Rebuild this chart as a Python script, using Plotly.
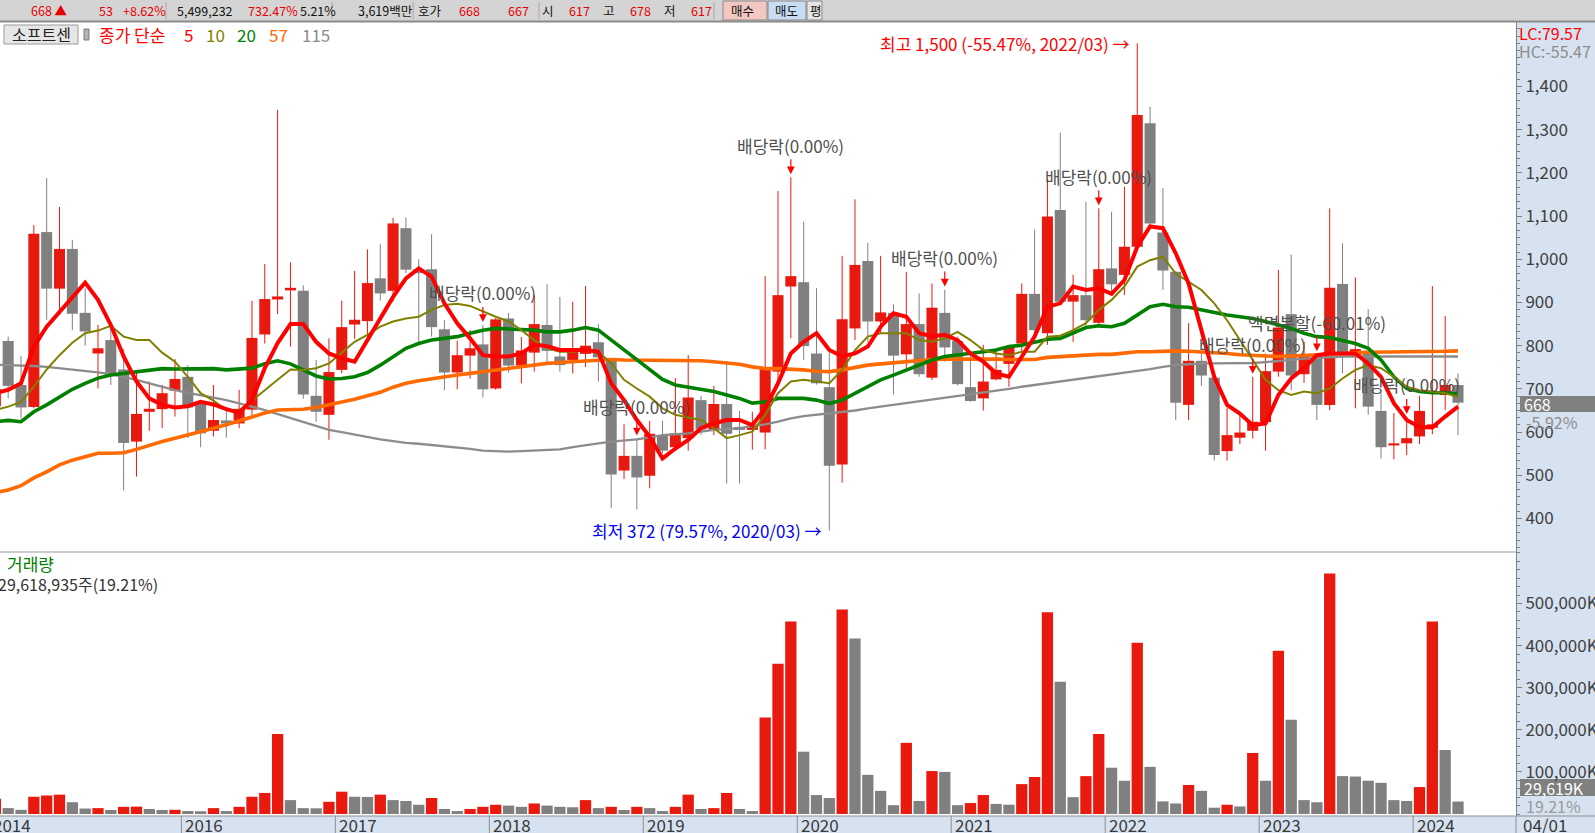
import plotly.graph_objects as go

# ---------------- data (monthly candles, index 0 = first partly visible month) ----------------
bar_index = list(range(115))

opens = [660, 811, 709, 658, 1063, 932, 1024, 876, 782, 813,
         745, 578, 647, 653, 696, 728, 666, 603, 627, 620,
         652, 826, 907, 928, 927, 684, 640, 744, 849, 857,
         956, 927, 1072, 977, 977, 838, 738, 777, 803, 701,
         863, 754, 784, 848, 775, 767, 781, 808, 765, 511,
         545, 499, 591, 565, 586, 674, 606, 665, 612, 605,
         599, 740, 937, 947, 782, 704, 525, 840, 996, 856,
         876, 780, 850, 726, 876, 811, 704, 678, 722, 758,
         805, 920, 829, 1114, 902, 917, 853, 979, 964, 1029,
         1315, 1062, 971, 663, 765, 726, 556, 587, 603, 623,
         740, 873, 734, 777, 663, 943, 777, 788, 649, 569,
         574, 590, 610, 686, 709]
highs = [840, 821, 776, 1079, 1188, 1121, 1045, 933, 848, 847,
         792, 738, 717, 709, 769, 755, 668, 709, 657, 698,
         904, 989, 1346, 993, 940, 767, 817, 904, 973, 1023,
         1035, 1096, 1097, 1000, 1058, 859, 812, 836, 848, 864,
         876, 820, 917, 942, 913, 902, 938, 850, 769, 618,
         585, 626, 626, 725, 778, 684, 707, 765, 649, 647,
         961, 1158, 1190, 1087, 933, 790, 1008, 1139, 1038, 1008,
         896, 971, 921, 944, 930, 821, 786, 802, 794, 800,
         944, 1069, 1185, 1293, 964, 1133, 1118, 1110, 1168, 1500,
         1353, 1165, 972, 852, 782, 728, 657, 645, 728, 782,
         975, 1011, 809, 780, 1118, 1037, 958, 885, 690, 644,
         635, 684, 938, 869, 736]
lows = [650, 678, 632, 655, 860, 883, 836, 800, 701, 709,
        465, 497, 603, 609, 636, 586, 565, 590, 587, 609,
        640, 805, 873, 798, 677, 624, 582, 736, 816, 821,
        904, 902, 968, 807, 821, 697, 699, 724, 680, 698,
        738, 713, 740, 755, 740, 736, 751, 717, 424, 491,
        421, 470, 550, 557, 557, 593, 593, 481, 481, 559,
        560, 713, 817, 767, 710, 372, 483, 813, 809, 827,
        687, 748, 728, 721, 763, 708, 670, 650, 720, 705,
        786, 829, 802, 894, 809, 844, 842, 917, 917, 1020,
        1080, 929, 628, 628, 707, 534, 534, 572, 585, 557,
        728, 697, 714, 628, 651, 736, 655, 640, 539, 537,
        547, 572, 595, 651, 593]
closes = [700, 707, 657, 1059, 932, 1024, 874, 833, 794, 732,
          575, 642, 654, 690, 723, 657, 597, 628, 620, 654,
          818, 908, 914, 934, 687, 647, 739, 843, 860, 945,
          921, 1083, 976, 968, 843, 738, 778, 794, 699, 861,
          754, 789, 850, 788, 755, 786, 800, 773, 502, 545,
          495, 596, 557, 597, 680, 606, 665, 596, 605, 615,
          748, 917, 961, 799, 713, 522, 861, 987, 856, 877,
          777, 850, 734, 888, 796, 711, 672, 717, 744, 798,
          920, 836, 1099, 902, 917, 859, 977, 942, 1029, 1334,
          1083, 974, 668, 765, 731, 547, 593, 599, 624, 741,
          842, 731, 777, 663, 934, 782, 792, 659, 565, 574,
          586, 649, 618, 709, 668]

# volume in thousands of shares (K)
volume_k = [36000, 14000, 10000, 41000, 44000, 46000, 28000, 13000, 14000, 9500,
            17000, 17500, 12000, 9500, 10000, 7000, 6500, 14000, 7000, 17000,
            41000, 50000, 190000, 33000, 14000, 13500, 29000, 53000, 41000, 40500,
            46000, 33000, 31000, 22000, 38000, 12000, 7000, 12000, 17000, 22000,
            20000, 17000, 25000, 20000, 17000, 16000, 33000, 14000, 17000, 9500,
            17000, 14000, 7000, 17000, 46000, 12000, 14000, 50000, 12000, 7000,
            229000, 357000, 457000, 148000, 45000, 38000, 486000, 417000, 93000, 55000,
            21000, 169000, 31000, 102000, 100000, 21000, 26000, 45000, 24000, 22000,
            71000, 88000, 479000, 314000, 40000, 90000, 190000, 110000, 79000, 407000,
            112000, 30000, 25000, 69000, 55000, 15000, 22000, 18000, 145000, 79000,
            388000, 224000, 33000, 28000, 571000, 90000, 89000, 79000, 74000, 33000,
            31000, 64000, 457000, 152000, 29619]

ma5 = [690, 698, 713, 798, 844, 879, 914, 946, 906, 848,
       775, 717, 678, 663, 657, 660, 670, 664, 653, 645,
       674, 748, 806, 850, 850, 809, 782, 771, 763, 813,
       859, 913, 956, 979, 960, 898, 852, 817, 778, 775,
       775, 782, 802, 799, 790, 790, 790, 786, 713, 674,
       628, 589, 539, 562, 582, 609, 620, 628, 628, 616,
       655, 713, 782, 809, 829, 790, 775, 782, 798, 844,
       875, 867, 829, 822, 825, 813, 782, 763, 736, 728,
       775, 821, 890, 898, 937, 929, 933, 920, 952, 1029,
       1076, 1072, 1014, 944, 836, 728, 663, 643, 616, 620,
       686, 724, 748, 778, 782, 782, 782, 759, 728, 667,
       628, 612, 611, 636, 659]
ma10 = [651, 659, 670, 705, 745, 778, 807, 829, 835, 846,
        821, 813, 813, 784, 763, 728, 690, 673, 651, 650,
        673, 698, 721, 745, 744, 748, 759, 784, 809, 825,
        844, 856, 863, 867, 883, 894, 897, 892, 879, 867,
        856, 836, 813, 794, 786, 786, 789, 786, 759, 721,
        701, 682, 655, 640, 634, 628, 609, 586, 593, 601,
        640, 690, 717, 721, 717, 713, 744, 790, 821, 829,
        829, 829, 813, 809, 817, 832, 813, 790, 782, 778,
        786, 786, 821, 823, 836, 852, 883, 906, 937, 983,
        998, 1006, 967, 948, 929, 898, 859, 813, 767, 721,
        697, 686, 694, 690, 701, 724, 744, 755, 748, 728,
        705, 697, 694, 690, 682]
ma20 = [624, 627, 624, 647, 663, 680, 699, 713, 725, 732,
        736, 738, 742, 747, 746, 747, 747, 747, 744, 745,
        748, 758, 765, 758, 744, 730, 723, 724, 728, 738,
        755, 775, 794, 805, 813, 817, 821, 829, 836, 840,
        839, 838, 836, 832, 832, 836, 842, 836, 813, 790,
        767, 744, 722, 709, 704, 699, 694, 686, 678, 667,
        670, 678, 678, 678, 674, 666, 674, 690, 705, 721,
        732, 744, 755, 767, 775, 778, 782, 786, 790, 798,
        801, 809, 815, 817, 829, 842, 846, 844, 852, 871,
        890, 896, 890, 889, 883, 875, 871, 867, 863, 856,
        848, 840, 829, 821, 819, 813, 805, 794, 767, 728,
        701, 694, 691, 691, 688]
ma57 = [460, 466, 476, 494, 508, 524, 535, 542, 551, 551,
        552, 560, 570, 578, 586, 593, 601, 609, 617, 626,
        636, 644, 651, 651, 653, 657, 663, 670, 676, 684,
        692, 704, 713, 719, 724, 728, 732, 736, 740, 745,
        748, 751, 755, 759, 761, 763, 765, 768, 768, 767,
        767, 767, 765, 765, 765, 765, 763, 761, 757, 751,
        747, 747, 746, 744, 741, 740, 744, 750, 755, 758,
        761, 763, 765, 768, 769, 769, 771, 771, 769, 768,
        767, 768, 773, 775, 776, 778, 780, 780, 784, 786,
        786, 788, 788, 787, 786, 784, 782, 779, 777, 775,
        775, 776, 777, 778, 779, 781, 783, 785, 785, 785,
        785, 785, 786, 787, 788]
ma115 = [756, 755, 755, 753, 751, 748, 745, 741, 738, 734,
         728, 721, 713, 705, 697, 691, 686, 680, 674, 667,
         659, 651, 642, 633, 624, 614, 605, 600, 594, 588,
         583, 579, 575, 573, 570, 568, 565, 561, 557, 556,
         555, 556, 557, 558, 560, 565, 570, 574, 578, 581,
         583, 588, 593, 595, 597, 601, 605, 607, 609, 614,
         618, 624, 632, 637, 640, 643, 646, 650, 655, 659,
         663, 667, 671, 675, 680, 684, 687, 692, 696, 700,
         705, 709, 713, 717, 721, 725, 729, 733, 737, 741,
         746, 751, 755, 757, 759, 759, 759, 759, 760, 762,
         764, 767, 770, 772, 774, 775, 775, 775, 775, 775,
         775, 775, 775, 775, 775]

year_labels = ["2014", "2016", "2017", "2018", "2019", "2020", "2021", "2022", "2023", "2024"]
year_bounds = [-0.5, 14.5, 26.5, 38.5, 50.5, 62.5, 74.5, 86.5, 98.5, 110.5]

event_index = [38, 50, 62, 74, 86, 98, 103, 110]
event_text = ["배당락(0.00%)", "배당락(0.00%)", "배당락(0.00%)", "배당락(0.00%)",
              "배당락(0.00%)", "배당락(0.00%)", "액면분할(-60.01%)", "배당락(0.00%)"]

price_ticks = [400, 500, 600, 700, 800, 900, 1000, 1100, 1200, 1300, 1400]
volume_ticks = [100000, 200000, 300000, 400000, 500000]

hi_idx, hi_val, hi_text = 89, 1500, "최고 1,500 (-55.47%, 2022/03) →"
lo_idx, lo_val, lo_text = 65, 372, "최저 372 (79.57%, 2020/03) →"

# ---------------- styling ----------------
W, H = 1595, 833
PLOT_W = 1516
X0, X1 = 0.3624, 118.52
FONT = "Noto Sans CJK KR"
RED = "#E8190E"
GRAY = "#808080"
BLUE_BG = "#D6E2F0"


def px(x):
    return x / PLOT_W


def py(y):
    return 1 - y / H


def xdata_to_paper(v):
    return (v - X0) / (X1 - X0)


fig = go.Figure()

# wicks
for up in (True, False):
    wx, wy = [], []
    for i, o, h, l, c in zip(bar_index, opens, highs, lows, closes):
        if (c >= o) == up:
            wx += [i, i, None]
            wy += [l, h, None]
    fig.add_trace(go.Scatter(x=wx, y=wy, mode="lines", xaxis="x", yaxis="y",
                             line=dict(color=RED if up else GRAY, width=1),
                             hoverinfo="skip"))

# candle bodies
body_colors = [RED if c >= o else GRAY for o, c in zip(opens, closes)]
fig.add_trace(go.Bar(x=bar_index, y=[abs(c - o) for o, c in zip(opens, closes)],
                     base=[min(o, c) for o, c in zip(opens, closes)],
                     width=0.86, marker=dict(color=body_colors, line=dict(width=0)),
                     xaxis="x", yaxis="y", hoverinfo="skip"))

# moving averages
for vals, col, wid in [(ma115, "#8C8C8C", 2.3), (ma57, "#FF6A00", 3.6), (ma20, "#008000", 3.6),
                       (ma10, "#808000", 2.0), (ma5, "#FF0000", 4.0)]:
    fig.add_trace(go.Scatter(x=bar_index, y=vals, mode="lines", xaxis="x", yaxis="y",
                             line=dict(color=col, width=wid), hoverinfo="skip"))

# volume
vol_colors = [RED] + [RED if volume_k[k] > volume_k[k - 1] else GRAY for k in range(1, len(volume_k))]
fig.add_trace(go.Bar(x=bar_index, y=volume_k, width=0.88,
                     marker=dict(color=vol_colors, line=dict(width=0)),
                     xaxis="x2", yaxis="y2", hoverinfo="skip"))

shapes = []
ann = []


def rect(x0, y0, x1, y1, fill, line=None, lw=0):
    shapes.append(dict(type="rect", xref="paper", yref="paper", x0=px(x0), x1=px(x1),
                       y0=py(y1), y1=py(y0), fillcolor=fill,
                       line=dict(color=line or fill, width=lw), layer="below"))


def hline(x0, x1, y, color, w=1):
    shapes.append(dict(type="line", xref="paper", yref="paper", x0=px(x0), x1=px(x1),
                       y0=py(y), y1=py(y), line=dict(color=color, width=w)))


def vline(x, y0, y1, color, w=1):
    shapes.append(dict(type="line", xref="paper", yref="paper", x0=px(x), x1=px(x),
                       y0=py(y0), y1=py(y1), line=dict(color=color, width=w)))


def text(x, y, s, color="#333333", size=17, anchor="left", **kw):
    ann.append(dict(xref="paper", yref="paper", x=px(x), y=py(y), text=s, showarrow=False,
                    xanchor=anchor, yanchor="middle",
                    font=dict(family=FONT, size=size, color=color), **kw))


# top toolbar
rect(-20, -5, 1620, 21, "#D4D4D4")
hline(-20, 1620, 21.5, "#8A8A8A", 2)
for sx in [166, 332, 413, 539, 714]:
    vline(sx, 2, 19, "#A8A8A8")
rect(723, 1, 767, 20, "#F3C8C2", "#8A8A8A", 1)
rect(768, 1, 806, 20, "#C8DCF2", "#8A8A8A", 1)
rect(807, 1, 822, 20, "#E4E4E4", "#8A8A8A", 1)
TB = 12.5
RD = "#E60000"
BK = "#111111"
for x, s, c in [(29, "668 ▲", RD), (97, "53", RD), (121, "+8.62%", RD), (175, "5,499,232", BK),
                (246, "732.47%", RD), (298, "5.21%", BK), (356, "3,619백만", BK), (416, "호가", BK),
                (457, "668", RD), (506, "667", RD), (540, "시", BK), (567, "617", RD),
                (601, "고", BK), (628, "678", RD), (662, "저", BK), (689, "617", RD),
                (729, "매수", BK), (773, "매도", BK), (808, "평", BK)]:
    text(x, 10.5, s, c, TB)

# right axis panel and date strip
rect(PLOT_W, 21, 1620, 840, BLUE_BG)
rect(-20, 816, 1620, 840, BLUE_BG)
hline(-20, 1620, 816, "#8E8E8E")
hline(0, PLOT_W, 552, "#9A9A9A")
vline(PLOT_W, 816, 840, "#8E8E8E")
for b, lab in zip(year_bounds, year_labels):
    xp = xdata_to_paper(b) * PLOT_W
    vline(xp, 816, 840, "#8E8E8E")
    text(xp + 2, 824.5, lab, "#3A3A3A", 17)
text(1521, 824.5, "04/01", "#3A3A3A", 17)

# legend line
rect(4, 25, 78, 44, "#E6E6E6", "#9A9A9A", 1)
text(41, 34.5, "소프트센", "#222222", 16, anchor="center")
rect(84, 29, 89, 40, "#B4B4B4", "#7A7A7A", 1)
for x, s, c in [(97, "종가 단순", "#FF0000"), (182, "5", "#FF0000"), (204, "10", "#808000"),
                (235, "20", "#008000"), (267, "57", "#FF6A00"), (300, "115", "#8C8C8C")]:
    text(x, 34.5, s, c, 17)

# right-side price info
text(1517, 32.5, "LC:79.57", "#FF0000", 16)
text(1517, 51, "HC:-55.47", "#8C8C8C", 16)
rect(1520, 396, 1620, 412, "#808080")
text(1522, 404, "668", "#FFFFFF", 16)
text(1524, 421.5, "-5.92%", "#8C8C8C", 16)
rect(1520, 779, 1620, 796, "#808080")
text(1522, 787.5, "29,619K", "#FFFFFF", 16)
text(1524, 806, "19.21%", "#9A9A9A", 16)

# volume pane labels
text(5, 563.5, "거래량", "#008000", 17)
text(-4, 584, "29,618,935주(19.21%)", "#333333", 16)

# events (ex-dividend / split markers)
for i, s in zip(event_index, event_text):
    ann.append(dict(xref="x", yref="y", x=i, y=highs[i], text=s, showarrow=True,
                    arrowhead=2, arrowsize=1.3, arrowwidth=1.2, arrowcolor="#FF0000",
                    ax=0, ay=-32, standoff=3,
                    font=dict(family=FONT, size=17, color="#505050")))

# high / low markers
ann.append(dict(xref="x", yref="y", x=hi_idx, y=hi_val, text=hi_text, showarrow=False,
                xanchor="right", yanchor="middle", xshift=-5,
                font=dict(family=FONT, size=17, color="#FF0000")))
ann.append(dict(xref="x", yref="y", x=lo_idx, y=lo_val, text=lo_text, showarrow=False,
                xanchor="right", yanchor="middle", xshift=-6,
                font=dict(family=FONT, size=17, color="#0000FF")))

axis_common = dict(showgrid=False, zeroline=False, fixedrange=True, automargin=False)
fig.update_layout(
    template="none",
    width=W, height=H,
    margin=dict(l=0, r=W - PLOT_W, t=0, b=0),
    paper_bgcolor="white", plot_bgcolor="white",
    showlegend=False, hovermode=False, barmode="overlay",
    font=dict(family=FONT, size=16, color="#333333"),
    xaxis=dict(domain=[0, 1], range=[X0, X1], anchor="y", showticklabels=False, ticks="",
               showline=False, **axis_common),
    xaxis2=dict(domain=[0, 1], range=[X0, X1], anchor="y2", matches="x", showticklabels=False,
                ticks="", showline=False, **axis_common),
    yaxis=dict(domain=[py(552), py(22)], range=[322.45, 1549.3], side="right", anchor="x",
               tickmode="array", tickvals=price_ticks, ticktext=[f"{v:,}" for v in price_ticks],
               ticks="outside", ticklen=5, tickcolor=GRAY, showline=True, linecolor=GRAY,
               linewidth=1, tickfont=dict(family=FONT, size=17, color="#404040"),
               minor=dict(ticks="outside", ticklen=3, tickcolor=GRAY, tickmode="linear",
                          tick0=0, dtick=100 / 6),
               **axis_common),
    yaxis2=dict(domain=[py(816), py(552)], range=[-4750, 622300], side="right", anchor="x2",
                tickmode="array", tickvals=volume_ticks,
                ticktext=[f"{v:,}K" for v in volume_ticks],
                ticks="outside", ticklen=5, tickcolor=GRAY, showline=True, linecolor=GRAY,
                linewidth=1, tickfont=dict(family=FONT, size=17, color="#404040"),
                minor=dict(ticks="outside", ticklen=3, tickcolor=GRAY, tickmode="linear",
                           tick0=0, dtick=20000),
                **axis_common),
    shapes=shapes,
    annotations=ann,
)

fig.write_html("out.html", config={"displayModeBar": False, "staticPlot": True},
               post_script="document.body.style.margin='0';document.body.style.overflow='hidden';")
